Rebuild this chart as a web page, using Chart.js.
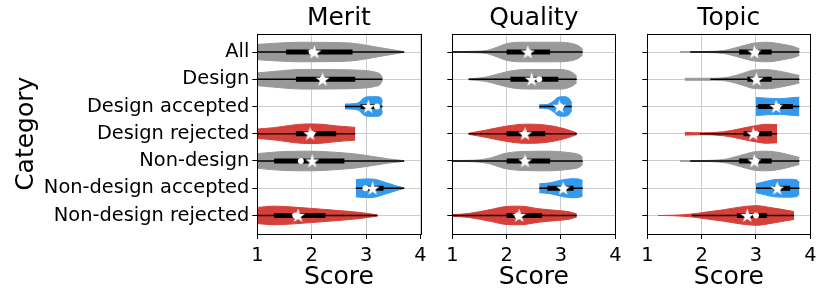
<!DOCTYPE html>
<html>
<head>
<meta charset="utf-8">
<script src="https://cdn.jsdelivr.net/npm/chart.js@4.4.1/dist/chart.umd.min.js"></script>
<style>
  body { margin: 0; background: #fff; }
  #wrap { position: relative; width: 830px; height: 297px; overflow: hidden; }
  canvas { position: absolute; top: 0; }
</style>
</head>
<body>
<div id="wrap">
  <canvas id="merit" width="440" height="297" style="left:0px"></canvas>
  <canvas id="quality" width="200" height="297" style="left:430px"></canvas>
  <canvas id="topic" width="205" height="297" style="left:625px"></canvas>
</div>
<script>
const categories = ["All", "Design", "Design accepted", "Design rejected",
    "Non-design", "Non-design accepted", "Non-design rejected"];
const xTicks = [1, 2, 3, 4];

// violin outlines: [score, relative width]
const meritShape = [
    [[1, 0.78], [1.4, 0.92], [1.8, 1.0], [2.3, 0.98], [2.7, 0.92], [3.0, 0.7], [3.25, 0.45], [3.5, 0.22], [3.7, 0.03]],
    [[1, 0.65], [1.4, 0.85], [1.8, 1.0], [2.5, 0.98], [2.9, 0.92], [3.15, 0.75], [3.27, 0.45], [3.3, 0.1]],
    [[2.61, 0.25], [2.8, 0.3], [2.88, 0.45], [2.95, 0.85], [3.05, 1.0], [3.2, 1.0], [3.28, 0.85], [3.3, 0.5]],
    [[1, 0.48], [1.3, 0.62], [1.6, 0.85], [1.9, 1.0], [2.15, 0.98], [2.45, 0.8], [2.8, 0.65]],
    [[1, 0.75], [1.5, 0.97], [2.0, 1.0], [2.4, 0.9], [2.8, 0.72], [3.1, 0.48], [3.4, 0.22], [3.7, 0.03]],
    [[2.81, 0.88], [3.0, 0.95], [3.15, 0.92], [3.35, 0.6], [3.55, 0.25], [3.7, 0.03]],
    [[1, 0.82], [1.3, 0.95], [1.6, 0.88], [2.0, 0.72], [2.5, 0.5], [2.9, 0.3], [3.21, 0.05]]
];
const meritLow = [1, 1, 2.61, 1, 1, 2.81, 1];
const meritHigh = [3.7, 3.3, 3.3, 2.8, 3.7, 3.7, 3.21];
const meritQ1 = [1.53, 1.71, 2.9, 1.71, 1.31, 2.97, 1.31];
const meritQ3 = [2.75, 2.8, 3.2, 2.45, 2.6, 3.32, 2.25];
const meritMedian = [2.0, 2.2, 3.2, 2.0, 1.8, 2.99, 1.7];
const meritMean = [2.05, 2.2, 3.04, 1.97, 2.01, 3.12, 1.75];

const qualityShape = [
    [[1.0, 0.04], [1.4, 0.07], [1.65, 0.18], [1.85, 0.55], [2.0, 0.85], [2.3, 1.0], [2.9, 1.0], [3.15, 0.92], [3.32, 0.65], [3.4, 0.3]],
    [[1.3, 0.05], [1.6, 0.2], [1.85, 0.55], [2.1, 0.88], [2.4, 1.0], [3.0, 1.0], [3.2, 0.72], [3.29, 0.35]],
    [[2.6, 0.18], [2.75, 0.22], [2.85, 0.5], [2.95, 0.95], [3.05, 1.0], [3.15, 0.82], [3.2, 0.35]],
    [[1.3, 0.05], [1.6, 0.35], [2.0, 0.78], [2.35, 0.98], [2.6, 0.95], [2.85, 0.78], [3.1, 0.45], [3.29, 0.08]],
    [[1.0, 0.05], [1.4, 0.08], [1.7, 0.3], [1.95, 0.75], [2.3, 0.97], [2.8, 1.0], [3.15, 0.85], [3.35, 0.6], [3.4, 0.35]],
    [[2.6, 0.45], [2.8, 0.55], [3.0, 0.82], [3.2, 0.97], [3.32, 0.95], [3.4, 0.8]],
    [[1.0, 0.08], [1.3, 0.2], [1.7, 0.6], [2.0, 0.92], [2.25, 0.95], [2.6, 0.68], [2.95, 0.5], [3.15, 0.38], [3.29, 0.15]]
];
const qualityLow = [1, 1.3, 2.6, 1.3, 1, 2.6, 1];
const qualityHigh = [3.4, 3.29, 3.2, 3.29, 3.4, 3.4, 3.29];
const qualityQ1 = [2.0, 2.07, 2.95, 2.0, 2.0, 2.75, 2.0];
const qualityQ3 = [2.8, 2.95, 3.05, 2.71, 2.8, 3.23, 2.65];
const qualityMedian = [2.4, 2.6, 3.0, 2.33, 2.33, 3.05, 2.2];
const qualityMean = [2.39, 2.46, 2.97, 2.34, 2.34, 3.04, 2.23];

const topicShape = [
    [[1.6, 0.03], [2.0, 0.05], [2.4, 0.15], [2.7, 0.55], [2.95, 0.9], [3.2, 1.0], [3.5, 0.78], [3.7, 0.55], [3.8, 0.35]],
    [[1.69, 0.1], [2.2, 0.1], [2.5, 0.22], [2.75, 0.6], [2.97, 0.95], [3.2, 0.98], [3.5, 0.75], [3.8, 0.38]],
    [[3.0, 0.92], [3.2, 0.85], [3.45, 0.8], [3.65, 0.9], [3.8, 0.95]],
    [[1.69, 0.14], [2.0, 0.1], [2.4, 0.2], [2.7, 0.5], [2.95, 0.78], [3.2, 0.97], [3.39, 0.92]],
    [[1.6, 0.03], [2.0, 0.05], [2.4, 0.15], [2.7, 0.55], [2.95, 0.92], [3.2, 1.0], [3.5, 0.78], [3.8, 0.35]],
    [[3.0, 0.45], [3.15, 0.65], [3.35, 0.88], [3.6, 0.92], [3.75, 0.85], [3.8, 0.6]],
    [[1.2, 0.0], [1.5, 0.03], [1.8, 0.14], [2.1, 0.36], [2.4, 0.58], [2.7, 0.85], [3.0, 1.0], [3.3, 0.78], [3.55, 0.55], [3.7, 0.4]]
];
const topicLow = [1.79, 2.16, 3.0, 1.97, 1.79, 3.0, 1.82];
const topicHigh = [3.8, 3.8, 3.8, 3.39, 3.8, 3.8, 3.7];
const topicQ1 = [2.69, 2.84, 3.04, 2.77, 2.69, 3.32, 2.65];
const topicQ3 = [3.29, 3.29, 3.68, 3.29, 3.29, 3.63, 3.2];
const topicMedian = [3.0, 3.0, 3.4, 3.0, 3.0, 3.4, 3.0];
const topicMean = [2.97, 3.01, 3.37, 2.95, 2.97, 3.39, 2.84];

const gray = "#999999", blue = "#3399ee", red = "#d6403a";
const violinColors = [gray, gray, blue, red, gray, blue, red];
const HALF = 0.36; // half of the violin's max thickness, in category units

Chart.defaults.font.family = "'DejaVu Sans', sans-serif";
Chart.defaults.color = "#000";

// white five-pointed star for the mean marker
const starImg = document.createElement("canvas");
starImg.width = 15;
starImg.height = 15;
const sctx = starImg.getContext("2d");
sctx.fillStyle = "#fff";
sctx.beginPath();
for (let k = 0; k < 10; k++) {
    const r = k % 2 ? 2.9 : 7.4;
    const a = -Math.PI / 2 + k * Math.PI / 5;
    sctx.lineTo(7.5 + r * Math.cos(a), 8 + r * Math.sin(a));
}
sctx.closePath();
sctx.fill();

const framePlugin = {
    id: "frame",
    afterDatasetsDraw(chart) {
        const { ctx, chartArea: a } = chart;
        const l = Math.round(a.left), t = Math.round(a.top);
        const r = Math.round(a.right), b = Math.round(a.bottom);
        ctx.save();
        ctx.strokeStyle = "#000";
        ctx.lineWidth = 1;
        ctx.strokeRect(l + 0.5, t + 0.5, r - l, b - t);
        ctx.restore();
    }
};

function buildDatasets(shape, low, high, q1, q3, median, mean) {
    const ds = [];
    categories.forEach((c, i) => {
        const color = violinColors[i];
        ds.push({
            data: shape[i].map(([x, w]) => ({ x: x, y: i - w * HALF })),
            borderColor: color, backgroundColor: color, borderWidth: 1,
            pointRadius: 0, fill: false, cubicInterpolationMode: "monotone", order: 10
        });
        ds.push({
            data: shape[i].map(([x, w]) => ({ x: x, y: i + w * HALF })),
            borderColor: color, backgroundColor: color, borderWidth: 1,
            pointRadius: 0, fill: "-1", cubicInterpolationMode: "monotone", order: 10
        });
        ds.push({
            data: [{ x: low[i], y: i }, { x: high[i], y: i }],
            borderColor: "#000", borderWidth: 1.4, pointRadius: 0, fill: false, order: 5
        });
        ds.push({
            data: [{ x: q1[i], y: i }, { x: q3[i], y: i }],
            borderColor: "#000", borderWidth: 5, borderCapStyle: "butt",
            pointRadius: 0, fill: false, order: 4
        });
    });
    ds.push({
        data: median.map((x, i) => ({ x: x, y: i })),
        showLine: false, pointRadius: 3, pointBackgroundColor: "#fff",
        pointBorderWidth: 0, fill: false, order: 2
    });
    ds.push({
        data: mean.map((x, i) => ({ x: x, y: i })),
        showLine: false, pointStyle: starImg, pointRadius: 7, fill: false, order: 1
    });
    return ds;
}

function makeChart(id, title, yWidth, padRight, showLabels, datasets) {
    return new Chart(document.getElementById(id), {
        type: "line",
        data: { datasets: datasets },
        options: {
            responsive: false,
            animation: false,
            devicePixelRatio: 1,
            layout: { padding: { left: 0, right: padRight, top: 0, bottom: 0 } },
            plugins: {
                legend: { display: false },
                tooltip: { enabled: false },
                title: {
                    display: true, text: title, fullSize: false,
                    font: { size: 25, weight: "normal" },
                    padding: { top: 3, bottom: 0.5 }
                }
            },
            scales: {
                x: {
                    type: "linear", min: 1, max: 4,
                    afterBuildTicks: s => { s.ticks = xTicks.map(v => ({ value: v })); },
                    afterFit: s => { s.height = 63; },
                    border: { display: false },
                    grid: { color: "#cccccc", tickColor: "#000", tickLength: 5 },
                    ticks: { font: { size: 19.4 }, padding: 5, maxRotation: 0 },
                    title: { display: true, text: "Score", font: { size: 25 }, padding: { top: 0, bottom: 5 } }
                },
                y: {
                    type: "linear", min: -0.68, max: 6.68, reverse: true,
                    afterBuildTicks: s => { s.ticks = categories.map((c, i) => ({ value: i })); },
                    afterFit: s => { s.width = yWidth; },
                    border: { display: false },
                    grid: { color: "#cccccc", tickColor: "#000", tickLength: 5 },
                    ticks: {
                        font: { size: 19.4 }, padding: 3,
                        callback: v => showLabels ? categories[v] : ""
                    },
                    title: { display: showLabels, text: "Category", font: { size: 25 }, padding: { top: 11, bottom: 0 } }
                }
            }
        },
        plugins: [framePlugin]
    });
}

makeChart("merit", "Merit", 257.3, 19.5, true,
    buildDatasets(meritShape, meritLow, meritHigh, meritQ1, meritQ3, meritMedian, meritMean));
makeChart("quality", "Quality", 22.3, 14.7, false,
    buildDatasets(qualityShape, qualityLow, qualityHigh, qualityQ1, qualityQ3, qualityMedian, qualityMean));
makeChart("topic", "Topic", 22.3, 19.7, false,
    buildDatasets(topicShape, topicLow, topicHigh, topicQ1, topicQ3, topicMedian, topicMean));
</script>
</body>
</html>
